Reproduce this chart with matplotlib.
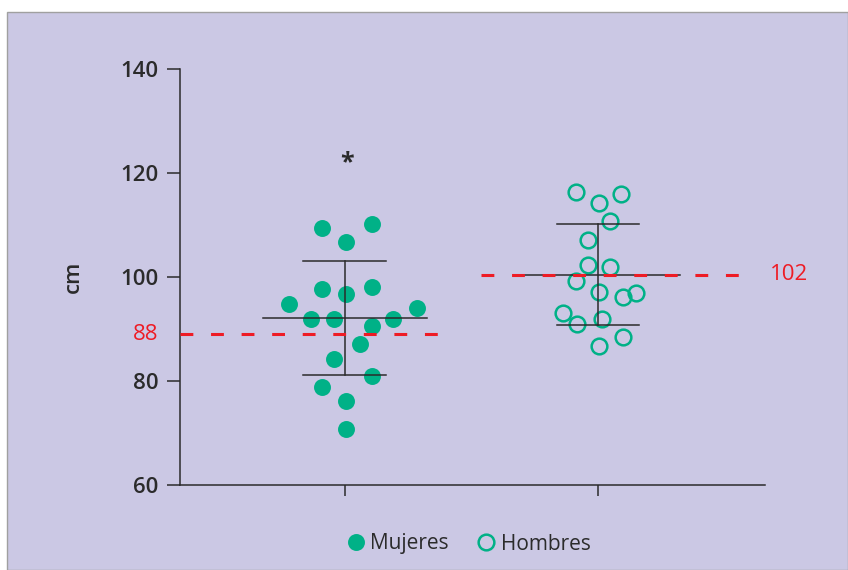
import matplotlib
matplotlib.use("Agg")
import matplotlib.pyplot as plt
from matplotlib.patches import Rectangle
from matplotlib.lines import Line2D
import numpy as np

# data
groups = ["Mujeres", "Hombres"]
group_pos = [1, 2]

mujeres_dx = [-0.09, 0.107, 0.003, -0.09, 0.003, 0.107, -0.22, 0.285, -0.135, -0.043,
              0.19, 0.107, 0.058, -0.043, 0.107, -0.09, 0.003, 0.003]
mujeres_cm = [109.5, 110.2, 106.7, 97.6, 96.8, 98.1, 94.8, 94.0, 91.9, 91.9,
              91.9, 90.6, 87.2, 84.3, 81.0, 78.9, 76.1, 70.8]

hombres_dx = [-0.086, 0.004, 0.092, 0.049, -0.041, -0.041, 0.049, -0.086, 0.004, 0.1,
              0.151, -0.138, -0.083, 0.016, 0.1, 0.004]
hombres_cm = [116.4, 114.2, 115.9, 110.8, 107.2, 102.3, 101.9, 99.2, 97.2, 96.2,
              97.0, 93.0, 90.9, 91.9, 88.4, 86.8]

means = [92.1, 100.4]
sd_hi = [103.1, 110.2]
sd_lo = [81.2, 90.7]

cutoff_labels = ["88", "102"]
cutoff_y = [89.0, 100.4]
cutoff_x = [(0.348, 1.39), (1.536, 2.58)]

green = "#00b187"
red = "#ee1c25"
dark = "#2b2b2b"
bg = "#cbc8e4"

plt.rcParams['font.family'] = ['Open Sans', 'DejaVu Sans']

W, H = 848, 570
fig = plt.figure(figsize=(W / 100, H / 100), dpi=100)
fig.patch.set_facecolor("white")
fig.patches.append(Rectangle((7 / W, 0), 1 - 7 / W, (H - 12) / H, transform=fig.transFigure,
                             facecolor=bg, edgecolor="#a0a0a0", lw=1.0, zorder=-10))

ax = fig.add_axes([180 / W, (H - 485) / H, (765 - 180) / W, (485 - 69) / H])
ax.set_zorder(1)
ax.set_facecolor("none")
ax.set_xlim(0.348, 2.66)
ax.set_ylim(60, 140)

ax.plot(np.array(mujeres_dx) + group_pos[0], mujeres_cm, 'o', ms=12.2, color=green,
        mec=green, mew=0, zorder=3)
ax.plot(np.array(hombres_dx) + group_pos[1], hombres_cm, 'o', ms=11.3, mfc="none",
        mec=green, mew=1.8, zorder=3)

for x, m, hi, lo in zip(group_pos, means, sd_hi, sd_lo):
    ax.plot([x - 0.325, x + 0.325], [m, m], color=dark, lw=1.1, zorder=4)
    ax.plot([x - 0.164, x + 0.164], [hi, hi], color=dark, lw=1.1, zorder=4)
    ax.plot([x - 0.164, x + 0.164], [lo, lo], color=dark, lw=1.1, zorder=4)
    ax.plot([x, x], [lo, hi], color=dark, lw=1.1, zorder=4)

for (x0, x1), y in zip(cutoff_x, cutoff_y):
    ax.plot([x0, x1], [y, y], color=red, lw=2.2, dashes=(4.2, 5.8), zorder=5)

ax.text(0.348 - 0.085, cutoff_y[0], cutoff_labels[0], color=red, fontsize=16,
        ha="right", va="center", clip_on=False)
ax.text(2.68, cutoff_y[1], cutoff_labels[1], color=red, fontsize=16,
        ha="left", va="center", clip_on=False)

ax.text(1.01, 122.0, "*", ha="center", va="center", fontsize=18, color=dark,
        fontweight="bold")

for s in ["top", "right"]:
    ax.spines[s].set_visible(False)
for s in ["left", "bottom"]:
    ax.spines[s].set_color(dark)
    ax.spines[s].set_linewidth(1.1)

ax.set_yticks([60, 80, 100, 120, 140])
ax.set_xticks(group_pos)
ax.set_xticklabels([])
ax.tick_params(axis="y", length=9.4, width=1.1, color=dark, pad=6, labelsize=16,
               labelcolor=dark)
ax.tick_params(axis="x", length=8, width=1.1, color=dark)
for lab in ax.get_yticklabels():
    lab.set_fontweight("semibold")
ax.set_ylabel("cm", fontsize=16, fontweight="semibold", color=dark, labelpad=26)

handles = [Line2D([], [], ls="none", marker="o", ms=12.2, color=green, mew=0),
           Line2D([], [], ls="none", marker="o", ms=11.3, mfc="none", mec=green, mew=1.8)]
fig.legend(handles, groups, loc="center", bbox_to_anchor=(468 / W, (H - 544) / H), ncol=2,
           frameon=False, fontsize=15, handletextpad=0.2, columnspacing=1.3,
           labelcolor=dark, handlelength=1.0)

fig.savefig("out.png", dpi=100, facecolor=fig.get_facecolor())
